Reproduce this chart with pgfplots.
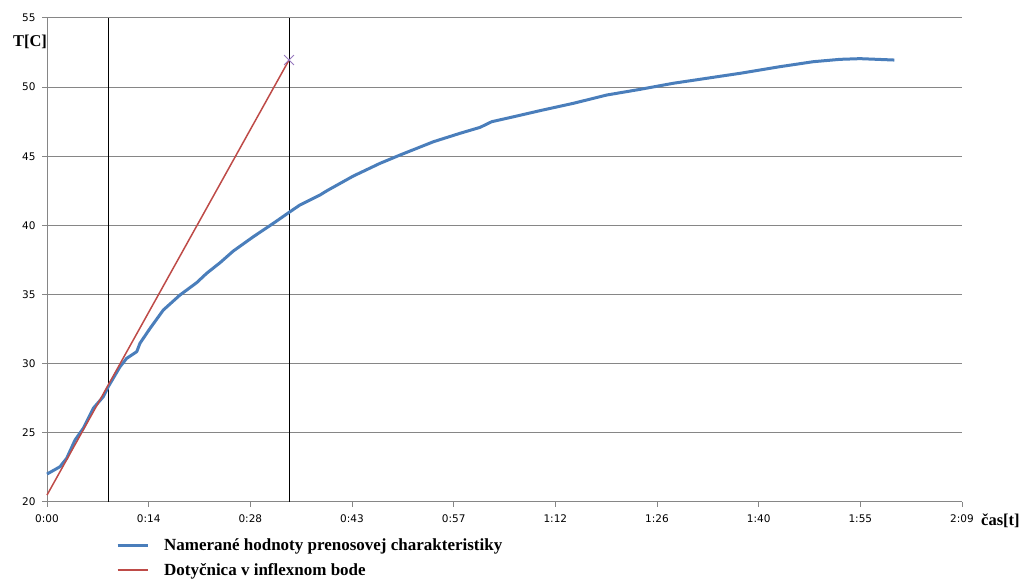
\documentclass[border=0pt]{standalone}
\usepackage{fontspec}
\setmainfont{Liberation Serif}
\newfontfamily\tickfont{DejaVu Sans}
\usepackage{pgfplots}
\pgfplotsset{compat=1.18}
\definecolor{meas}{RGB}{74,126,187}
\definecolor{tang}{RGB}{190,75,72}
\definecolor{gridc}{RGB}{134,134,134}
\definecolor{markc}{RGB}{150,120,190}
\begin{document}
\begin{tikzpicture}[x=1pt,y=1pt]
\path[use as bounding box] (0,0) rectangle (1025,583);
\begin{axis}[
  at={(47pt,81pt)}, anchor=south west,
  scale only axis, width=915pt, height=484pt,
  xmin=0, xmax=129.6, ymin=20, ymax=55,
  axis lines*=left,
  axis line style={gridc, line width=1pt},
  xtick={0,14.4,28.8,43.2,57.6,72,86.4,100.8,115.2,129.6},
  xticklabels={0:00,0:14,0:28,0:43,0:57,1:12,1:26,1:40,1:55,2:09},
  ytick={20,25,30,35,40,45,50,55},
  tick align=outside, major tick length=5pt,
  tick style={gridc, line width=1pt},
  ymajorgrids, grid style={gridc, line width=1pt},
  /pgf/number format/assume math mode=true,
  ticklabel style={font=\tickfont\fontsize{10.5}{12}\selectfont},
  xticklabel style={yshift=-4pt},
  yticklabel style={xshift=-3pt},
  clip=false,
  legend style={at={(0.072,-0.068)}, anchor=north west, draw=none, fill=none,
    font=\bfseries\fontsize{17}{19}\selectfont, row sep=7pt,
    /tikz/every odd column/.append style={column sep=13pt}},
  legend cell align=left,
  legend image code/.code={\draw[#1] (0pt,0pt) -- (30pt,0pt);},
]
\addplot[black, line width=1pt, forget plot] coordinates {(8.78,20) (8.78,55)};
\addplot[black, line width=1pt, forget plot] coordinates {(34.28,20) (34.28,55)};
\addplot[markc, only marks, mark=x, mark size=7pt, line width=0.8pt, forget plot] coordinates {(34.28,51.96)};
\addplot[meas, line width=3pt, line join=round] coordinates {
(0,22.02) (1.84,22.55) (2.79,23.16) (3.97,24.48) (5.14,25.33) (6.56,26.78)
(7.97,27.61) (8.68,28.34) (10.34,29.78) (11.29,30.39) (12.71,30.87) (13.17,31.48)
(14.59,32.55) (16.47,33.88) (18.84,34.97) (21.20,35.86) (22.62,36.54) (24.50,37.30)
(26.39,38.15) (29.22,39.18) (32.05,40.15) (34.42,40.99) (35.83,41.48) (38.67,42.20)
(39.62,42.50) (43.38,43.57) (47.17,44.49) (50.00,45.09) (54.72,46.05) (58.49,46.66)
(61.33,47.09) (62.99,47.50) (66.53,47.91) (69.83,48.30) (74.55,48.83) (79.28,49.43)
(84.00,49.84) (88.71,50.28) (93.44,50.64) (98.16,51.00) (103.82,51.48) (108.54,51.84)
(112.32,52.01) (115.15,52.06) (120.01,51.96)
};
\addlegendentry{Namerané hodnoty prenosovej charakteristiky}
\addplot[tang, line width=1.5pt] coordinates {(0,20.5) (34.28,51.96)};
\addlegendentry{Dotyčnica v inflexnom bode}
\end{axis}
\node[font=\bfseries\fontsize{16.5}{18}\selectfont] at (30,541) {T[C]};
\node[anchor=west, inner sep=0pt, font=\bfseries\fontsize{16.5}{18}\selectfont] at (981,62) {čas[t]};
\end{tikzpicture}
\end{document}
